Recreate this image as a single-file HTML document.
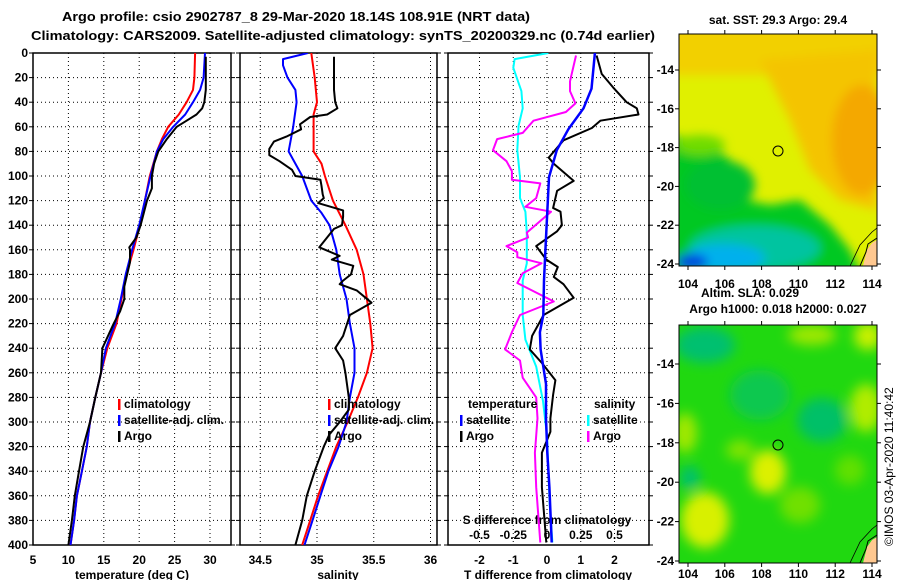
<!DOCTYPE html>
<html><head><meta charset="utf-8"><style>
html,body{margin:0;padding:0;background:#fff;}
svg{display:block;font-family:"Liberation Sans",Arial,sans-serif;font-weight:bold;}
</style></head><body>
<svg id="fig" width="900" height="580" viewBox="0 0 900 580" xmlns="http://www.w3.org/2000/svg">
<defs>
<filter id="bl1" x="-30%" y="-30%" width="160%" height="160%"><feGaussianBlur stdDeviation="5"/></filter>
<filter id="bl2" x="-30%" y="-30%" width="160%" height="160%"><feGaussianBlur stdDeviation="6"/></filter>
<clipPath id="cm1"><rect x="679" y="34" width="198" height="232"/></clipPath>
<clipPath id="cm2"><rect x="679" y="325" width="198" height="238"/></clipPath>
<clipPath id="cp1"><rect x="33" y="53" width="198" height="492"/></clipPath>
<clipPath id="cp2"><rect x="240" y="53" width="197" height="492"/></clipPath>
<clipPath id="cp3"><rect x="448" y="53" width="201" height="492"/></clipPath>
</defs>
<text x="62" y="21" font-size="13" textLength="468" lengthAdjust="spacingAndGlyphs">Argo profile: csio 2902787_8 29-Mar-2020 18.14S 108.91E (NRT data)</text>
<text x="31" y="40" font-size="13" textLength="624" lengthAdjust="spacingAndGlyphs">Climatology: CARS2009. Satellite-adjusted climatology: synTS_20200329.nc (0.74d earlier)</text>

<!-- SST map -->
<g>
<g clip-path="url(#cm1)">
<rect x="679" y="34" width="198" height="232" fill="#e0f000"/>
<g filter="url(#bl1)">
<rect x="670" y="20" width="220" height="55" fill="#f2d000"/>
<polygon points="760,60 877,50 877,210 840,200 810,170 790,120" fill="#f4c400"/>
<ellipse cx="862" cy="140" rx="30" ry="55" fill="#f4a800"/>
<polygon points="670,135 700,140 725,155 742,175 745,200 770,205 800,200 830,225 850,250 862,275 670,275" fill="#00c820"/>
<ellipse cx="700" cy="145" rx="25" ry="10" fill="#70dc00"/>
<ellipse cx="720" cy="185" rx="35" ry="25" fill="#00c030"/>
<ellipse cx="755" cy="248" rx="65" ry="22" fill="#00c4a0"/>
<ellipse cx="725" cy="258" rx="40" ry="14" fill="#00b0ec"/>
<ellipse cx="692" cy="262" rx="16" ry="8" fill="#0040e0"/>
</g>
<polygon points="863,266 867,250 872,243 877,240 877,266" fill="#ffc890"/>
<polyline points="860,266 866,252 868,244 877,238" fill="none" stroke="#000" stroke-width="1"/>
<polyline points="850,266 860,245 872,232 877,228" fill="none" stroke="#000" stroke-width="0.8"/>
</g>
<rect x="679" y="34" width="198" height="232" fill="none" stroke="#000" stroke-width="1"/>
<circle cx="778" cy="151" r="5" fill="none" stroke="#000" stroke-width="1"/>
</g>
<text x="778" y="24" font-size="12" text-anchor="middle">sat. SST: 29.3 Argo: 29.4</text>
<text x="750" y="297" font-size="12" text-anchor="middle">Altim. SLA: 0.029</text>
<text x="778" y="313" font-size="12" text-anchor="middle">Argo h1000: 0.018 h2000: 0.027</text>

<!-- SLA map -->
<g>
<g clip-path="url(#cm2)">
<rect x="679" y="325" width="198" height="238" fill="#20d810"/>
<g filter="url(#bl2)">
<ellipse cx="705" cy="345" rx="30" ry="18" fill="#00c070"/>
<ellipse cx="822" cy="420" rx="25" ry="22" fill="#00c068"/>
<ellipse cx="760" cy="395" rx="30" ry="25" fill="#10c850"/>
<ellipse cx="768" cy="472" rx="18" ry="22" fill="#dcf000"/>
<ellipse cx="705" cy="520" rx="24" ry="28" fill="#d8f000"/>
<ellipse cx="866" cy="408" rx="16" ry="24" fill="#b0ec00"/>
<ellipse cx="868" cy="336" rx="14" ry="14" fill="#c8f000"/>
<ellipse cx="685" cy="433" rx="12" ry="20" fill="#a0e800"/>
<ellipse cx="812" cy="335" rx="24" ry="10" fill="#a0e800"/>
<ellipse cx="800" cy="505" rx="20" ry="18" fill="#70e000"/>
<ellipse cx="850" cy="470" rx="15" ry="15" fill="#60e000"/>
<ellipse cx="740" cy="450" rx="14" ry="10" fill="#80e400"/>
<ellipse cx="690" cy="478" rx="10" ry="12" fill="#00c070"/>
</g>
<polygon points="863,563 867,547 872,540 877,537 877,563" fill="#ffc890"/>
<polyline points="860,563 866,549 868,541 877,535" fill="none" stroke="#000" stroke-width="1"/>
<polyline points="850,563 860,542 872,529 877,525" fill="none" stroke="#000" stroke-width="0.8"/>
</g>
<rect x="679" y="325" width="198" height="238" fill="none" stroke="#000" stroke-width="1"/>
<circle cx="778" cy="445" r="5" fill="none" stroke="#000" stroke-width="1"/>
</g>
<text transform="translate(893,546) rotate(-90)" font-size="12" font-weight="normal">©IMOS 03-Apr-2020 11:40:42</text>

<g id="plots"></g>
</svg>
<script>
// ---------- data ----------
const depthTicks = [0,20,40,60,80,100,120,140,160,180,200,220,240,260,280,300,320,340,360,380,400];
const tempTicks = [5,10,15,20,25,30];
const salTicks = [34.5,35,35.5,36];
const tdiffTicks = [-2,-1,0,1,2];
const sdiffTicks = [-0.5,-0.25,0,0.25,0.5];
const sdiffTickLabels = ["-0.5","-0.25","0","0.25","0.5"];
const mapLonTicks = [104,106,108,110,112,114];
const mapLatTicks = [-14,-16,-18,-20,-22,-24];

const tempClimDepth = [0,20,30,40,50,60,70,80,100,120,140,160,180,200,220,240,260,280,300,320,340,360,380,400];
const tempClimValues = [27.9,27.8,27.6,26.7,25.6,24.1,23.2,22.5,21.5,20.8,20.1,19.2,18.2,17.5,16.8,15.5,14.6,13.8,13.05,12.6,11.9,11.2,10.8,10.3];
const tempSatDepth = [0,20,30,40,50,60,70,80,100,120,140,160,180,200,220,240,260,280,300,320,340,360,380,400];
const tempSatValues = [29.3,29.1,28.6,27.6,26.5,24.8,23.4,22.5,21.6,20.8,20.0,19.0,18.1,17.4,16.6,15.3,14.6,13.8,13.05,12.6,11.9,11.2,10.8,10.3];
const tempArgoDepth = [3,30,40,45,50,55,60,70,80,90,100,110,120,140,150,158,160,170,190,200,210,220,240,260,280,300,320,340,360,380,400];
const tempArgoValues = [29.4,29.4,29.2,28.9,28.1,26.7,25.3,23.9,22.7,22.1,21.8,21.8,21.1,20.2,19.6,18.6,18.7,18.7,17.9,17.9,17.3,16.4,14.8,14.6,13.8,13.05,12.1,11.5,10.9,10.5,10.0];

const salClimDepth = [0,20,40,50,60,80,90,100,120,140,160,180,200,220,240,260,280,300,320,340,360,380,400];
const salClimValues = [34.95,34.98,35.0,34.97,34.97,34.97,35.04,35.07,35.14,35.25,35.35,35.41,35.44,35.47,35.49,35.44,35.36,35.27,35.17,35.09,35.01,34.94,34.87];
const salSatDepth = [0,5,10,20,30,40,60,80,100,120,130,140,160,180,200,220,240,260,280,300,320,340,360,380,400];
const salSatValues = [34.92,34.70,34.70,34.74,34.81,34.82,34.79,34.75,34.87,34.95,35.04,35.11,35.17,35.20,35.26,35.29,35.33,35.33,35.29,35.26,35.19,35.10,35.03,34.96,34.89];
const salArgoDepth = [3,30,40,45,50,52,58,62,68,72,78,83,88,95,100,103,108,115,118,122,128,133,140,143,158,165,168,173,180,185,188,193,203,213,230,240,250,260,280,290,300,310,320,340,360,380,400];
const salArgoValues = [35.15,35.15,35.16,35.18,35.09,34.94,34.85,34.86,34.73,34.62,34.58,34.58,34.67,34.78,34.81,35.03,35.04,35.05,35.06,35.01,35.23,35.23,35.22,35.15,35.02,35.20,35.13,35.32,35.30,35.23,35.20,35.35,35.48,35.29,35.23,35.16,35.23,35.25,35.28,35.28,35.20,35.11,35.06,34.98,34.91,34.87,34.81];

const tdiffSatDepth = [0,29,45,62,79,101,129,157,185,213,227,241,269,297,325,353,398];
const tdiffSatValues = [1.42,1.32,1.08,0.63,0.29,0.06,0.01,-0.04,-0.09,-0.11,-0.21,-0.19,-0.03,-0.03,0.01,0.07,0.14];
const tdiffArgoDepth = [2,17,28,40,45,50,55,61,71,85,90,104,112,126,129,140,145,157,168,174,182,188,199,213,230,241,252,266,278,297,308,325,353,398];
const tdiffArgoValues = [1.47,1.62,1.96,2.36,2.66,2.71,1.58,1.33,0.49,0.05,0.2,0.79,0.3,0.18,0.4,0.44,0.3,-0.32,-0.02,0.32,0.2,0.49,0.79,-0.1,-0.44,-0.51,-0.15,0.25,0.18,0.1,0.1,-0.15,-0.15,-0.02];
const sdiffSatDepth = [0,5,12,31,45,59,79,101,118,129,146,171,185,213,233,255,283,311,339,367,398];
const sdiffSatValues = [0.01,-0.24,-0.25,-0.19,-0.18,-0.21,-0.22,-0.2,-0.2,-0.16,-0.15,-0.15,-0.18,-0.18,-0.16,-0.08,-0.03,0,0.01,0.02,0.04];
const sdiffArgoDepth = [2,23,31,41,48,55,65,70,79,88,96,103,106,118,125,129,146,150,157,162,166,171,179,187,202,213,227,241,250,264,280,297,325,353,398];
const sdiffArgoValues = [0.215,0.17,0.17,0.21,0.14,-0.1,-0.18,-0.37,-0.4,-0.3,-0.26,-0.26,-0.05,-0.08,-0.16,0.03,-0.15,-0.14,-0.3,-0.22,-0.22,-0.04,-0.18,-0.22,0.05,-0.2,-0.26,-0.31,-0.2,-0.18,-0.08,-0.07,-0.09,-0.08,-0.05];

// ---------- axes ----------
const NS = "http://www.w3.org/2000/svg";
const root = document.getElementById("plots");
const Y0 = 53, Y1 = 545;
const yD = d => Y0 + d * (Y1 - Y0) / 400;
const xT = t => 33 + (t - 5) * 7.08;
const xS = s => 317 + (s - 35) * 113.5;
const xTd = t => 547 + t * 33.75;
const xSd = s => 547 + s * 135;
const mLon = lon => 688 + (lon - 104) * 18.4;
const m1Lat = lat => 70 + (-14 - lat) * 19.4;
const m2Lat = lat => 364 + (-14 - lat) * 19.7;

function mk(tag, attrs, parent) {
  const e = document.createElementNS(NS, tag);
  for (const k in attrs) e.setAttribute(k, attrs[k]);
  (parent || root).appendChild(e);
  return e;
}
function txt(str, x, y, anchor, size, parent) {
  const e = mk("text", {x: x, y: y, "text-anchor": anchor || "start", "font-size": size || 12}, parent);
  e.textContent = str;
  return e;
}

const panels = [
  {name: "temperature", L: 33, R: 231, xs: tempTicks.map(xT), labels: tempTicks.map(String), grid: tempTicks.slice(1).map(xT), clip: "cp1"},
  {name: "salinity", L: 240, R: 437, xs: salTicks.map(xS), labels: salTicks.map(String), grid: salTicks.map(xS), clip: "cp2"},
  {name: "difference", L: 448, R: 649, xs: tdiffTicks.map(xTd), labels: tdiffTicks.map(String), grid: tdiffTicks.map(xTd), clip: "cp3"}
];

panels.forEach((p, i) => {
  const g = mk("g", {});
  
  
  p.grid.forEach(x => {
    const l = mk("line", {x1: x, x2: x, y1: Y0, y2: Y1, stroke: "#000", "stroke-width": 1, "stroke-dasharray": "1,3"}, g);
    
    
  });
  depthTicks.slice(1, -1).forEach(d => {
    const l = mk("line", {x1: p.L, x2: p.R, y1: yD(d), y2: yD(d), stroke: "#000", "stroke-width": 1, "stroke-dasharray": "1,3"}, g);
    
    
  });
  depthTicks.forEach(d => {
    mk("line", {x1: p.L - 4, x2: p.L, y1: yD(d), y2: yD(d), stroke: "#000"}, g);
    mk("line", {x1: p.R, x2: p.R + 4, y1: yD(d), y2: yD(d), stroke: "#000"}, g);
  });
  const fr = mk("rect", {x: p.L, y: Y0, width: p.R - p.L, height: Y1 - Y0, fill: "none", stroke: "#000", "stroke-width": 1.5}, g);
  
  
  p.xs.forEach((x, k) => {
    const t = txt(p.labels[k], x, 564, "middle", 12, g);
    
    
  });
  p.g = g;
});

depthTicks.forEach(d => {
  const t = txt(String(d), 28, yD(d) + 4, "end", 12);
  
  
});

let at = txt("temperature (deg C)", 132, 579, "middle", 12);


at = txt("salinity", 338, 579, "middle", 12);


at = txt("T difference from climatology", 548, 579, "middle", 12);


at = txt("S difference from climatology", 547, 524, "middle", 12);


sdiffTicks.forEach((s, k) => {
  const t = txt(sdiffTickLabels[k], xSd(s), 539, "middle", 12);
  
  
});

function series(depths, vals, xf, color, clip, name, w) {
  const pts = depths.map((d, k) => xf(vals[k]).toFixed(1) + "," + yD(d).toFixed(1)).join(" ");
  const pl = mk("polyline", {points: pts, fill: "none", stroke: color, "stroke-width": w || 2, "stroke-linejoin": "round", "clip-path": "url(#" + clip + ")"});
  
  
}
series(tempClimDepth, tempClimValues, xT, "#ff0000", "cp1", "temperature-climatology-line");
series(tempSatDepth, tempSatValues, xT, "#0000ff", "cp1", "temperature-satellite-line");
series(tempArgoDepth, tempArgoValues, xT, "#000000", "cp1", "temperature-argo-line");
series(salClimDepth, salClimValues, xS, "#ff0000", "cp2", "salinity-climatology-line");
series(salSatDepth, salSatValues, xS, "#0000ff", "cp2", "salinity-satellite-line");
series(salArgoDepth, salArgoValues, xS, "#000000", "cp2", "salinity-argo-line");
series(sdiffSatDepth, sdiffSatValues, xSd, "#00ffff", "cp3", "s-difference-satellite-line");
series(sdiffArgoDepth, sdiffArgoValues, xSd, "#ff00ff", "cp3", "s-difference-argo-line");
series(tdiffArgoDepth, tdiffArgoValues, xTd, "#000000", "cp3", "t-difference-argo-line");
series(tdiffSatDepth, tdiffSatValues, xTd, "#0000ff", "cp3", "t-difference-satellite-line", 2.5);

function legend(x, y, color, label, name) {
  const g = mk("g", {});
  
  
  mk("rect", {x: x, y: y - 9, width: 2.5, height: 11, fill: color}, g);
  txt(label, x + 6, y, "start", 12, g);
}
legend(118, 408, "#ff0000", "climatology", "legend-entry-climatology");
legend(118, 424, "#0000ff", "satellite-adj. clim.", "legend-entry-satellite-adj");
legend(118, 440, "#000000", "Argo", "legend-entry-argo");
legend(328, 408, "#ff0000", "climatology", "legend-entry-climatology-salinity");
legend(328, 424, "#0000ff", "satellite-adj. clim.", "legend-entry-satellite-adj-salinity");
legend(328, 440, "#000000", "Argo", "legend-entry-argo-salinity");
let lt = txt("temperature", 468, 408, "start", 12);


lt = txt("salinity", 594, 408, "start", 12);


legend(460, 424, "#0000ff", "satellite", "legend-entry-t-satellite");
legend(460, 440, "#000000", "Argo", "legend-entry-t-argo");
legend(587, 424, "#00ffff", "satellite", "legend-entry-s-satellite");
legend(587, 440, "#ff00ff", "Argo", "legend-entry-s-argo");

function mapAxes(top, bottom, latf, labelY, prefix) {
  mapLonTicks.forEach(lon => {
    const x = mLon(lon);
    mk("line", {x1: x, x2: x, y1: top - 4, y2: top, stroke: "#000"});
    mk("line", {x1: x, x2: x, y1: bottom, y2: bottom + 4, stroke: "#000"});
    const t = txt(String(lon), x, labelY, "middle", 12);
    
    
  });
  mapLatTicks.forEach(lat => {
    const y = latf(lat);
    mk("line", {x1: 675, x2: 679, y1: y, y2: y, stroke: "#000"});
    mk("line", {x1: 877, x2: 881, y1: y, y2: y, stroke: "#000"});
    const t = txt(String(lat), 674, y + 4, "end", 12);
    
    
  });
}
mapAxes(34, 266, m1Lat, 288, "sst-map");
mapAxes(325, 563, m2Lat, 578, "sla-map");
</script>
</body></html>
